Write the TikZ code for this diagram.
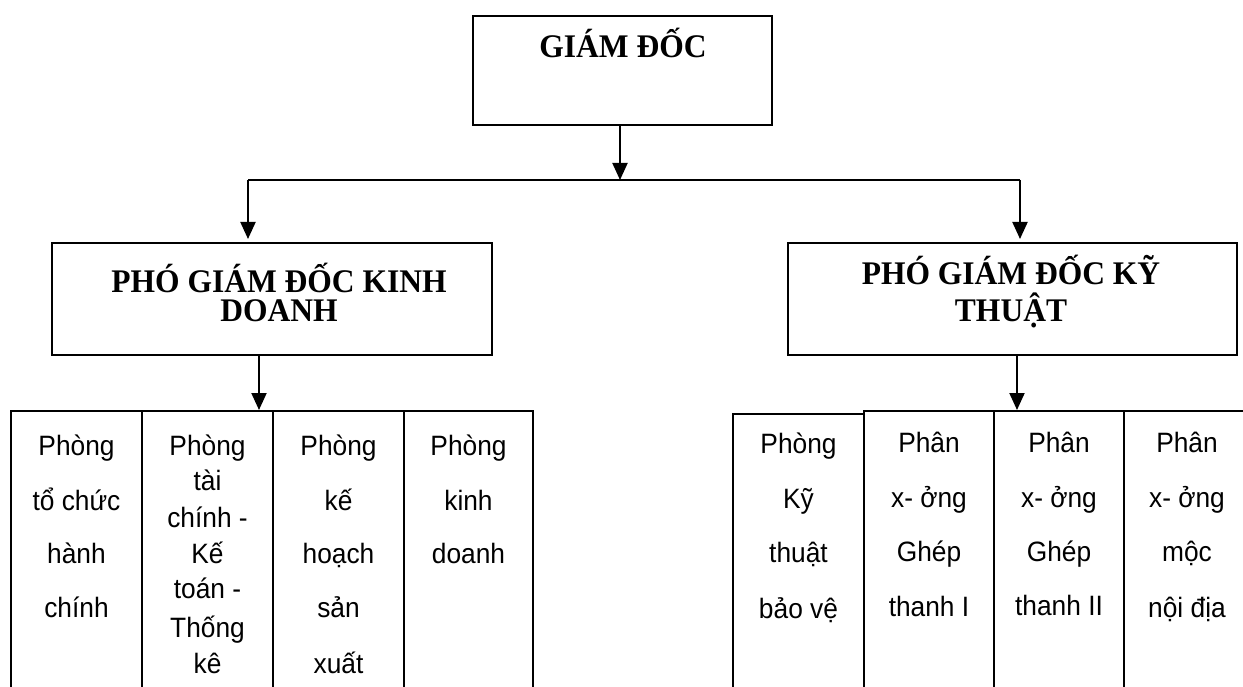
\documentclass[tikz,border=0pt]{standalone}
\usepackage{fontspec}
\setmainfont{Liberation Serif}
\newfontfamily\titlefont[FakeStretch=0.955]{Liberation Serif}
\newfontfamily\arial[FakeStretch=0.94]{Liberation Sans}
\usetikzlibrary{arrows.meta}
\begin{document}
\begin{tikzpicture}[x=1pt,y=-1pt,
  box/.style={draw, line width=1.6pt, inner sep=0pt, outer sep=0pt},
  arr/.style={line width=2pt, -{Triangle[length=17pt,width=15pt]}},
  head/.style={font=\titlefont\bfseries\fontsize{33}{#1}\selectfont, anchor=base,
    inner sep=0pt, align=center},
  head/.default=33,
  cellt/.style={font=\arial\fontsize{28}{28}\selectfont, anchor=base, inner sep=0pt}]
\clip (0,0) rectangle (1243,687);
\fill[white] (0,0) rectangle (1243,687);

% top level
\node[box, minimum width=299pt, minimum height=109pt] (gd) at (622.5,70.5) {};
\node[head] (gdt) at (623,58) {GIÁM ĐỐC};

% deputies (base anchor sits on the last line)
\node[box, minimum width=440pt, minimum height=112pt] (kd) at (272,299) {};
\node[head=30] (kdt) at (279,322) {PHÓ GIÁM ĐỐC KINH\\DOANH};
\node[box, minimum width=449pt, minimum height=112pt] (kt) at (1012.5,299) {};
\node[head=37] (ktt) at (1011,321) {PHÓ GIÁM ĐỐC KỸ\\THUẬT};

% departments (run past the lower edge)
\node[box, minimum width=131pt, minimum height=300pt, anchor=north] (b1) at (76.5,411) {};
\node[box, minimum width=131pt, minimum height=300pt, anchor=north] (b2) at (207.5,411) {};
\node[box, minimum width=131pt, minimum height=300pt, anchor=north] (b3) at (338.5,411) {};
\node[box, minimum width=129pt, minimum height=300pt, anchor=north] (b4) at (468.5,411) {};
\node[box, minimum width=131pt, minimum height=300pt, anchor=north] (r1) at (798.5,414) {};
\node[box, minimum width=130pt, minimum height=300pt, anchor=north] (r2) at (929,411) {};
\node[box, minimum width=130pt, minimum height=300pt, anchor=north] (r3) at (1059,411) {};
\node[box, minimum width=130pt, minimum height=300pt, anchor=north] (r4) at (1189,411) {};

\foreach \t/\y [count=\i] in {Phòng/455, tổ chức/510, hành/563, chính/617}
  \node[cellt] (b1-\i) at (76.5,\y) {\t};
\foreach \t/\y [count=\i] in {Phòng/455, tài/490, chính -/527, Kế/563, toán -/598, Thống/637, kê/673}
  \node[cellt] (b2-\i) at (207.5,\y) {\t};
\foreach \t/\y [count=\i] in {Phòng/455, kế/510, hoạch/563, sản/617, xuất/673}
  \node[cellt] (b3-\i) at (338.5,\y) {\t};
\foreach \t/\y [count=\i] in {Phòng/455, kinh/510, doanh/563}
  \node[cellt] (b4-\i) at (468.5,\y) {\t};
\foreach \t/\y [count=\i] in {Phòng/453, Kỹ/508, thuật/562, bảo vệ/618}
  \node[cellt] (r1-\i) at (798.5,\y) {\t};
\foreach \t/\y [count=\i] in {Phân/452, x- ởng/507, Ghép/561, thanh I/616}
  \node[cellt] (r2-\i) at (929,\y) {\t};
\foreach \t/\y [count=\i] in {Phân/452, x- ởng/507, Ghép/561, thanh II/615}
  \node[cellt] (r3-\i) at (1059,\y) {\t};
\foreach \t/\y [count=\i] in {Phân/452, x- ởng/507, mộc/561, nội địa/617}
  \node[cellt] (r4-\i) at (1187,\y) {\t};

% connectors
\coordinate (busL) at (248,180);
\coordinate (busR) at (1020,180);
\coordinate (kdx) at (259,0);
\coordinate (ktx) at (1017,0);
\draw[line width=1.8pt] (busL) -- (busR);
\draw[arr] (gd.south -| 620,0) -- (620,180);
\draw[arr, shorten >=4pt] (busL) -- (busL |- kd.north);
\draw[arr, shorten >=4pt] (busR) -- (busR |- kt.north);
\draw[arr, shorten >=1pt] (kd.south -| kdx) -- (kdx |- b2.north);
\draw[arr, shorten >=1pt] (kt.south -| ktx) -- (ktx |- r2.north);
\end{tikzpicture}
\end{document}
